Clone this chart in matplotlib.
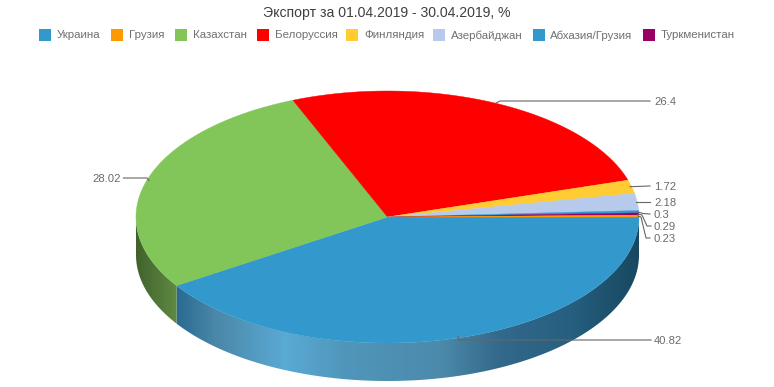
import numpy as np
import matplotlib
matplotlib.use("Agg")
import matplotlib.pyplot as plt
from matplotlib.colors import to_rgb
from matplotlib.patches import Rectangle, Polygon

plt.rcParams['font.family'] = ['Liberation Sans', 'DejaVu Sans']

title = "Экспорт за 01.04.2019 - 30.04.2019, %"
legend_names = ["Украина", "Грузия", "Казахстан", "Белоруссия", "Финляндия",
                "Азербайджан", "Абхазия/Грузия", "Туркменистан"]
legend_colors = ["#3399cc", "#ff9900", "#82c65a", "#ff0000", "#ffcc33",
                 "#b8caec", "#3399cc", "#990066"]

# slices in drawing order, clockwise from the east
slice_names = ["Украина", "Казахстан", "Белоруссия", "Финляндия", "Азербайджан",
               "Абхазия/Грузия", "Туркменистан", "Грузия"]
slice_values = [40.82, 28.02, 26.4, 1.72, 2.18, 0.3, 0.29, 0.23]

CX, CY, RX, RY, DEPTH = 387.5, 217.0, 251.5, 126.0, 38.0
color_of = dict(zip(legend_names, legend_colors))

side_stops = {
    "Украина": [(177, "#2b6b92"), (215, "#4a87a8"), (285, "#5aaad4"), (345, "#5096bb"),
                (440, "#4c8aab"), (500, "#33698a"), (570, "#265f80"), (639, "#174860")],
    "Казахстан": [(136, "#41622b"), (177, "#608a44")],
}

fig = plt.figure(figsize=(7.74, 3.87), dpi=100)
ax = fig.add_axes([0, 0, 1, 1])
ax.axis("off")

fracs = np.array(slice_values) / sum(slice_values) * 360
ends = np.cumsum(fracs)
starts = ends - fracs


def pt(t, dy=0.0):
    r = np.radians(t)
    return CX + RX * np.cos(r), CY + RY * np.sin(r) + dy


# side wall: horizontal gradient clipped to the wall outline
for name, a, b in zip(slice_names, starts, ends):
    if name not in side_stops:
        continue
    b = min(b, 180)
    stops = side_stops[name]
    xs = [s[0] for s in stops]
    cols = np.array([to_rgb(s[1]) for s in stops])
    ts = np.linspace(a, b, 300)
    outline = [pt(t) for t in ts] + [pt(t, DEPTH) for t in ts[::-1]]
    grid = np.arange(xs[0] - 1, xs[-1] + 2)
    img = np.stack([np.interp(grid, xs, cols[:, i]) for i in range(3)], axis=-1)[None, :, :]
    im = ax.imshow(img, extent=(grid[0], grid[-1], CY + RY + DEPTH + 2, CY - 2),
                   aspect="auto", interpolation="bilinear", zorder=1)
    im.set_clip_path(Polygon(outline, closed=True, transform=ax.transData))

ax.set_xlim(0, 774)
ax.set_ylim(387, 0)

# top faces
for name, a, b in zip(slice_names, starts, ends):
    ts = np.linspace(a, b, max(int(b - a) * 3, 6))
    xy = [(CX, CY)] + [pt(t) for t in ts]
    ax.fill(*zip(*xy), facecolor=color_of[name], edgecolor=color_of[name], linewidth=0.3, zorder=3)

# leader lines
line_color = "#666666"
leaders = [
    ("40.82", [(458, 336), (459, 340), (651, 340)], 654, 340),
    ("28.02", [(149, 180.5), (147, 178), (123.5, 178)], 121, 178),
    ("26.4", [(496, 103), (500, 101), (650, 101)], 654, 101),
    ("1.72", [(630, 186.7), (650, 186)], 654, 186),
    ("2.18", [(636, 202), (650, 202)], 654, 202),
    ("0.3", [(638, 212), (643, 213.5), (650, 214)], 654, 214),
    ("0.29", [(638, 214), (642, 215), (647, 226), (651, 226)], 654, 226),
    ("0.23", [(638, 216), (641, 217), (646, 238), (650, 238)], 654, 238),
]
for lab, path, tx, ty in leaders:
    ax.plot(*zip(*path), color=line_color, lw=0.8, zorder=5, solid_joinstyle="miter")
    ax.text(tx, ty, lab, ha="right" if tx < 300 else "left", va="center_baseline",
            fontsize=8.1, color="#6a6a6a", zorder=6)

# title
ax.text(386.5, 11, title, ha="center", va="center_baseline", fontsize=10.1, color="#404040")

# legend
square_x = [39, 111, 175, 257, 346, 433, 533, 643]
text_x = [57, 129, 193, 275, 364, 451, 550, 661]
for name, col, sx, tx in zip(legend_names, legend_colors, square_x, text_x):
    ax.add_patch(Rectangle((sx, 29), 12, 12, facecolor=col, edgecolor="none"))
    ax.text(tx, 34.5, name, ha="left", va="center_baseline", fontsize=8.25, color="#707070")

fig.savefig("out.png", dpi=100)
